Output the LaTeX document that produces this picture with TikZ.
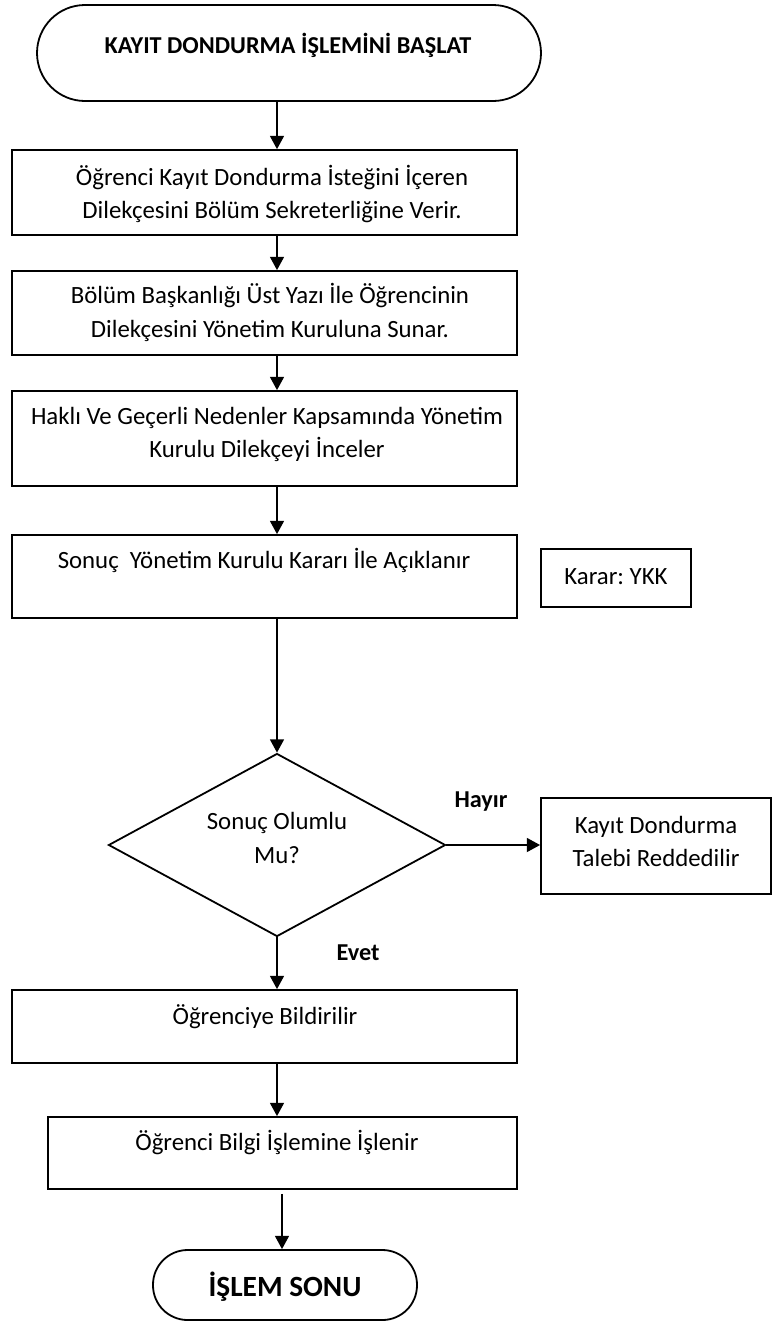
\documentclass[tikz,border=0pt]{standalone}
\usepackage{fontspec}
\setmainfont{Carlito}
\usetikzlibrary{shapes.geometric,arrows.meta}
\frenchspacing
\begin{document}
\begin{tikzpicture}[x=0.75pt,y=-0.75pt,
  line width=1.35pt,
  box/.style 2 args={draw, rectangle, minimum width=#1*0.75pt, minimum height=#2*0.75pt, inner sep=0pt},
  lbl/.style={font=\fontsize{18.6}{25}\selectfont, align=center, inner sep=0pt},
  blbl/.style={font=\fontsize{18.2}{25}\selectfont\bfseries, align=center, inner sep=0pt},
  arr/.style={-{Triangle[length=10pt,width=10.5pt]}},
]
\useasboundingbox (0,0) rectangle (773,1322);

% column of the main flow
\coordinate (col) at (277,0);
\coordinate (col2) at (282,0);

% start terminator
\node[box={504}{96}, rounded corners=36pt] (start) at (289,53) {};
\node[blbl] (t0) at (288,45) {KAYIT DONDURMA İŞLEMİNİ BAŞLAT};

% process steps
\node[box={505}{85}] (b1) at (264.5,192.5) {};
\node[lbl] (t1) at (272,194) {Öğrenci Kayıt Dondurma İsteğini İçeren\\Dilekçesini Bölüm Sekreterliğine Verir.};

\node[box={505}{84}] (b2) at (264.5,313) {};
\node[lbl] (t2) at (270,312.5) {Bölüm Başkanlığı Üst Yazı İle Öğrencinin\\Dilekçesini Yönetim Kuruluna Sunar.};

\node[box={505}{95}] (b3) at (264.5,438.5) {};
\node[lbl] (t3) at (267,434.5) {Haklı Ve Geçerli Nedenler Kapsamında Yönetim\\Kurulu Dilekçeyi İnceler};

\node[box={505}{83}] (b4) at (264.5,576.5) {};
\node[lbl] (t4) at (264,560) {Sonuç\ \ Yönetim Kurulu Kararı İle Açıklanır};

\node[box={150}{58}] (kr) at (616,578) {};
\node[lbl] (tk) at (616,577) {Karar: YKK};

% decision
\node[draw, diamond, minimum width=337*0.75pt, minimum height=183*0.75pt, inner sep=0pt] (d) at (277,845) {};
\node[lbl] (td) at (277,838) {Sonuç Olumlu\\Mu?};

\node[box={230}{96}] (rej) at (656,846) {};
\node[lbl] (tr) at (656,841.5) {Kayıt Dondurma\\Talebi Reddedilir};

\node[blbl] (no) at (481,802) {Hayır};
\node[blbl] (yes) at (358,953) {Evet};

\node[box={505}{73}] (b5) at (264.5,1026.5) {};
\node[lbl] (t5) at (265,1017) {Öğrenciye Bildirilir};

\node[box={469}{72}] (b6) at (282.5,1153) {};
\node[lbl] (t6) at (277,1142) {Öğrenci Bilgi İşlemine İşlenir};

% end terminator
\node[box={264}{70}, rounded corners=26pt] (end) at (285,1285) {};
\node[font=\fontsize{22}{25}\selectfont\bfseries, inner sep=0pt] (te) at (285,1287) {İŞLEM SONU};

% connectors
\draw[arr] (start.south -| col) -- (b1.north -| col);
\draw[arr] (b1.south -| col) -- (b2.north -| col);
\draw[arr] (b2.south -| col) -- (b3.north -| col);
\draw[arr] (b3.south -| col) -- (b4.north -| col);
\draw[arr] (b4.south -| col) -- (d.north);
\draw[arr] (d.east) -- (d.east -| rej.west);
\draw[arr] (d.south) -- (b5.north -| col);
\draw[arr] (b5.south -| col) -- (b6.north -| col);
\draw[arr, shorten <=3pt] (b6.south -| col2) -- (end.north -| col2);
\end{tikzpicture}
\end{document}
